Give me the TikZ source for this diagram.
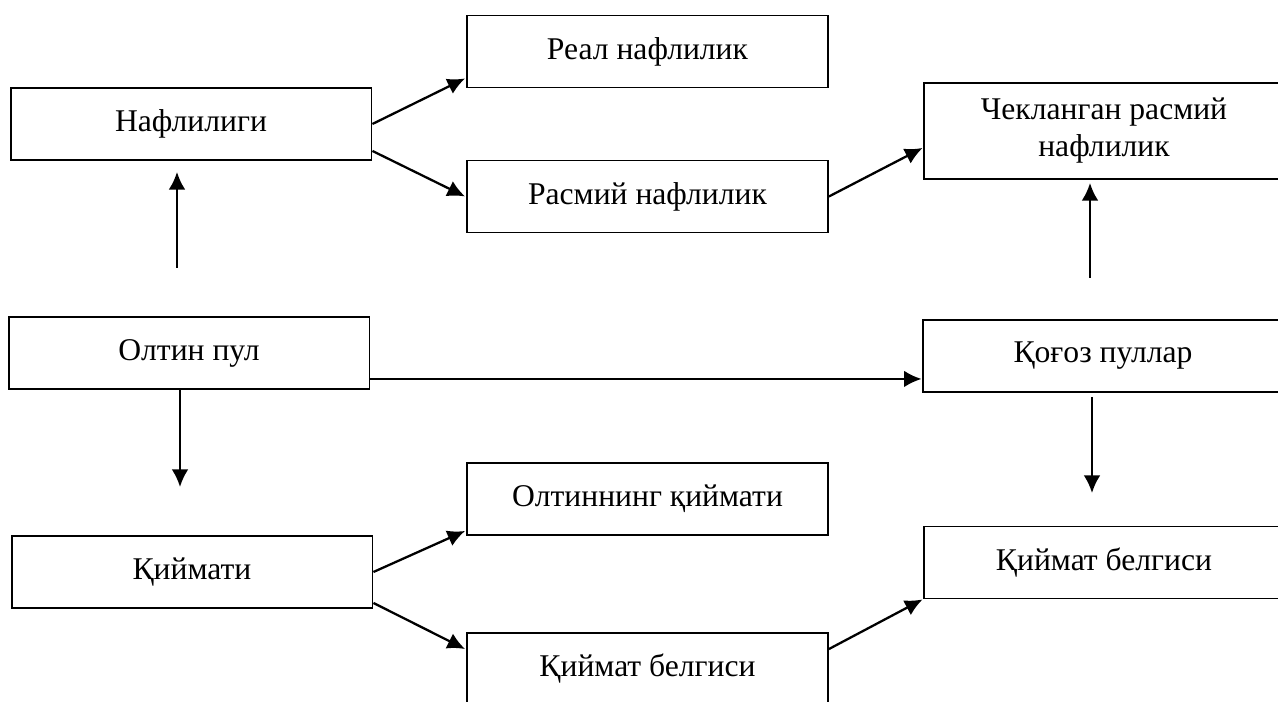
\documentclass[tikz,border=0pt]{standalone}
\usepackage{fontspec}
\setmainfont{Liberation Serif}
\usepackage{tikz}
\usetikzlibrary{arrows.meta}
\usetikzlibrary{calc}

\begin{document}
\begin{tikzpicture}[x=0.02cm,y=0.02cm,line width=1.1pt,
    >={Latex[length=10pt,width=9.5pt]},
    link/.style={->,line width=1.3pt},
    box/.style={draw,minimum width=7.22cm,minimum height=1.44cm,inner sep=2pt,align=center,
      font=\fontsize{18}{21}\selectfont}]
      \useasboundingbox (0,0) rectangle (1278,702);
      \node[box] (naf) at (191,578) {Нафлилиги};
      \node[box] (real) at (647.5,650.5) {Реал нафлилик};
      \node[box] (rasm) at (647.5,505.5) {Расмий нафлилик};
      \node[box,minimum height=1.92cm] (chek) at (1104,571) {Чекланган расмий\\нафлилик};
      \node[box] (olt) at (189,349) {Олтин пул};
      \node[box] (qogoz) at (1103,346) {Қоғоз пуллар};
      \node[box] (oltq) at (647.5,203) {Олтиннинг қиймати};
      \node[box] (qiym) at (192,130) {Қиймати};
      \node[box] (belg1) at (647.5,33) {Қиймат белгиси};
      \node[box] (belg2) at (1104,139.5) {Қиймат белгиси};
      \coordinate (up1s) at (177,434);
      \coordinate (up1e) at (177,530);
      \coordinate (up2s) at (1090,424);
      \coordinate (up2e) at (1090,519);
      \coordinate (dn1e) at (180,215);
      \coordinate (dn2s) at (1092,305);
      \coordinate (dn2e) at (1092,209);
      \draw[link] (naf.east) -- ($(real.south west)+(-1,10)$);
      \draw[link] ($(naf.south east)+(0,10)$) -- ($(rasm.west)+(-1,0)$);
      \draw[link] (rasm.east) -- ($(chek.south west)+(0,32)$);
      \draw[link] ($(olt.south east)+(0,11)$) -- ($(qogoz.south west)+(0,14)$);
      \draw[link] ($(olt.south)+(-9,0)$) -- (dn1e);
      \draw[link] (up1s) -- (up1e);
      \draw[link] (up2s) -- (up2e);
      \draw[link] (dn2s) -- (dn2e);
      \draw[link] (qiym.east) -- ($(oltq.south west)+(-1,5)$);
      \draw[link] ($(qiym.south east)+(0,6)$) -- ($(belg1.north west)+(-1,-17)$);
      \draw[link] ($(belg1.north east)+(0,-17)$) -- (belg2.south west);
    \end{tikzpicture}
\end{document}
